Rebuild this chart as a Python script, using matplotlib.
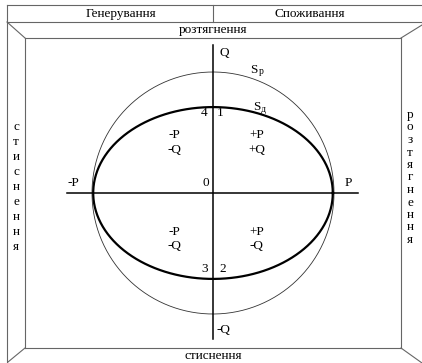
import numpy as np
import matplotlib
matplotlib.use("Agg")
import matplotlib.pyplot as plt

plt.rcParams['font.family'] = ['Liberation Serif', 'DejaVu Serif']

# diagram data (units of the circle radius S_p)
circle_r = 1.0          # S_p
ellipse_a = 0.99        # S_d along P
ellipse_b = 0.71        # S_d along Q
axis_p = (-1.21, 1.20)
axis_q = (-1.21, 1.22)

quad_labels = [("-P\n-Q", -0.32, 0.42), ("+P\n+Q", 0.36, 0.42),
               ("-P\n-Q", -0.32, -0.38), ("+P\n-Q", 0.36, -0.38)]
point_labels = [("4", -0.07, 0.66), ("1", 0.06, 0.66),
                ("3", -0.07, -0.63), ("2", 0.08, -0.63), ("0", -0.06, 0.08)]

header_left = "Генерування"
header_right = "Споживання"
top_word = "розтягнення"
bottom_word = "стиснення"
left_word = "стиснення"
right_word = "розтягнення"

W, H = 422, 363
fig = plt.figure(figsize=(W / 100, H / 100), dpi=100)

# frame layer in pixel coordinates
fr = fig.add_axes([0, 0, 1, 1])
fr.set_xlim(0, W)
fr.set_ylim(H, 0)
fr.axis('off')
fc = '#666666'
flw = 0.8
segs = [((7, 5), (422, 5)), ((7, 22), (422, 22)), ((213, 5), (213, 22)),
        ((7, 5), (7, 363)),
        ((25, 38), (401, 38)), ((25, 38), (25, 348)), ((401, 38), (401, 348)),
        ((25, 348), (401, 348)),
        ((7, 22), (25, 38)), ((422, 25), (401, 38)),
        ((25, 348), (8, 362)), ((401, 348), (422, 363))]
for (x0, y0), (x1, y1) in segs:
    fr.plot([x0, x1], [y0, y1], color=fc, lw=flw)

fs = 9.5
fr.text(121, 14, header_left, ha='center', va='center', fontsize=fs)
fr.text(310, 14, header_right, ha='center', va='center', fontsize=fs)
fr.text(213, 30, top_word, ha='center', va='center', fontsize=fs)
fr.text(213, 356, bottom_word, ha='center', va='center', fontsize=fs)
for i, ch in enumerate(left_word):
    fr.text(16, 127 + i * 15, ch, ha='center', va='center', fontsize=fs)
for i, ch in enumerate(right_word):
    fr.text(410, 115 + i * 12.5, ch, ha='center', va='center', fontsize=fs)

# diagram axes, 121 px per unit, origin at (213, 193) px
scale = 121
cx, cy = 213, H - 193
xl, yl = (-1.6, 1.6), (-1.3, 1.3)
ax = fig.add_axes([(cx + xl[0] * scale) / W, (cy + yl[0] * scale) / H,
                   (xl[1] - xl[0]) * scale / W, (yl[1] - yl[0]) * scale / H])
ax.set_xlim(*xl)
ax.set_ylim(*yl)
ax.axis('off')
ax.patch.set_alpha(0)

t = np.linspace(0, 2 * np.pi, 400)
ax.plot(circle_r * np.cos(t), circle_r * np.sin(t), color='#333333', lw=0.6)
ax.plot(ellipse_a * np.cos(t), ellipse_b * np.sin(t), color='black', lw=1.6)
ax.plot(axis_p, [0, 0], color='black', lw=1.1)
ax.plot([0, 0], axis_q, color='black', lw=1.1)

lfs = 9.5
ax.text(axis_p[0] + 0.06, 0.03, "-P", ha='center', va='bottom', fontsize=lfs)
ax.text(axis_p[1] - 0.08, 0.03, "P", ha='center', va='bottom', fontsize=lfs)
ax.text(0.05, axis_q[1] - 0.06, "Q", ha='left', va='center', fontsize=lfs)
ax.text(0.03, axis_q[0] + 0.08, "-Q", ha='left', va='center', fontsize=lfs)
for s, x, y in quad_labels:
    ax.text(x, y, s, ha='center', va='center', fontsize=lfs, linespacing=1.3)
for s, x, y in point_labels:
    ax.text(x, y, s, ha='center', va='center', fontsize=lfs)

# S_p and S_d labels with small subscript letters
for x, y, sub in [(0.34, 1.02, "р"), (0.36, 0.71, "д")]:
    ax.text(x, y, "S", ha='center', va='center', fontsize=lfs)
    ax.text(x + 0.055, y - 0.02, sub, ha='center', va='center', fontsize=7)

fig.savefig("out.png", dpi=100, facecolor='white')
